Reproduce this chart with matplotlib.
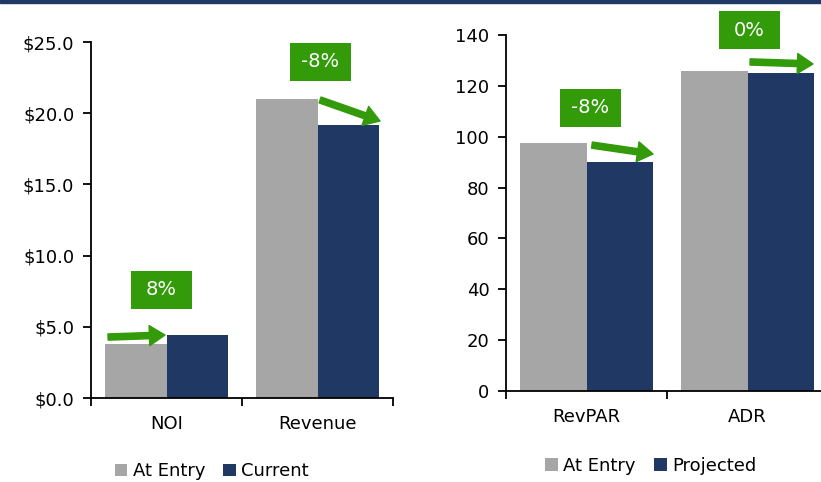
import matplotlib
matplotlib.use("Agg")
import matplotlib.pyplot as plt
from matplotlib.patches import Rectangle
from matplotlib.transforms import ScaledTranslation

# ---- data ----
left_categories = ["NOI", "Revenue"]
left_entry = [3.8, 21.0]
left_current = [4.4, 19.2]
left_changes = ["8%", "-8%"]
left_yticks = [0, 5, 10, 15, 20, 25]
left_yticklabels = ["$0.0", "$5.0", "$10.0", "$15.0", "$20.0", "$25.0"]

right_categories = ["RevPAR", "ADR"]
right_entry = [97.5, 126.0]
right_projected = [90.0, 125.0]
right_changes = ["-8%", "0%"]
right_yticks = [0, 20, 40, 60, 80, 100, 120, 140]

GREY = "#A6A6A6"
NAVY = "#1F3864"
GREEN = "#339A0A"
FONT = "DejaVu Sans"

plt.rcParams['font.family'] = [FONT]

fig = plt.figure(figsize=(8.21, 4.82), dpi=100)
fig.patches.append(Rectangle((0, 1 - 3/482), 1, 3/482, transform=fig.transFigure,
                             color=NAVY, zorder=10))

W = 0.41

def setup(ax, cats, ymax, yticks, yticklabels, fs):
    ax.set_xlim(-0.5, 1.5)
    ax.set_ylim(0, ymax)
    for s in ["top", "right"]:
        ax.spines[s].set_visible(False)
    for s in ["left", "bottom"]:
        ax.spines[s].set_linewidth(1.3)
    ax.set_xticks(range(len(cats)))
    ax.set_xticklabels(cats, fontsize=fs)
    ax.tick_params(axis="x", which="major", length=0, pad=12)
    ax.set_xticks([-0.5, 0.5, 1.5], minor=True)
    ax.tick_params(axis="x", which="minor", length=6, width=1.3, direction="out")
    ax.set_yticks(yticks)
    ax.set_yticklabels(yticklabels, fontsize=fs)
    ax.tick_params(axis="y", length=6, width=1.3, direction="out", pad=6)

def label_box(ax, x, y, text, w=61, h=38):
    trans = fig.dpi_scale_trans + ScaledTranslation(x, y, ax.transData)
    box = Rectangle((-w/200, -h/200), w/100, h/100, transform=trans,
                    facecolor=GREEN, edgecolor="none", zorder=5, clip_on=False)
    ax.add_patch(box)
    ax.text(x, y, text, ha="center", va="center", color="white", fontsize=14,
            clip_on=False, zorder=6)

def arrow(ax, start, end):
    ax.annotate("", xy=end, xytext=start,
                arrowprops=dict(arrowstyle="simple,head_length=0.7,head_width=0.9,tail_width=0.28",
                                color=GREEN, mutation_scale=16, shrinkA=0, shrinkB=0),
                annotation_clip=False, zorder=6)

# ---- left chart ----
ax1 = fig.add_axes([91/821, 1 - 398/482, 302/821, 356/482])
x = range(len(left_categories))
ax1.bar([i - W/2 for i in x], left_entry, width=W, color=GREY, label="At Entry")
ax1.bar([i + W/2 for i in x], left_current, width=W, color=NAVY, label="Current")
setup(ax1, left_categories, 25, left_yticks, left_yticklabels, 13)

label_box(ax1, -0.033, left_current[0] + 3.2, left_changes[0])
label_box(ax1, 1.017, left_entry[1] + 2.6, left_changes[1])
arrow(ax1, (-0.387, left_entry[0] + 0.48), (-0.01, left_current[0] + 0.02))
arrow(ax1, (1.017, left_entry[1] - 0.07), (1.414, left_current[1] + 0.25))

ax1.legend(loc="upper center", bbox_to_anchor=(0.4, -0.16), ncol=2, frameon=False,
           fontsize=13, handlelength=0.7, handleheight=0.7, handletextpad=0.3,
           columnspacing=1.0, borderaxespad=0)

# ---- right chart ----
ax2 = fig.add_axes([506/821, 1 - 391/482, 322/821, 356/482])
x = range(len(right_categories))
ax2.bar([i - W/2 for i in x], right_entry, width=W, color=GREY, label="At Entry")
ax2.bar([i + W/2 for i in x], right_projected, width=W, color=NAVY, label="Projected")
setup(ax2, right_categories, 140, right_yticks, [str(v) for v in right_yticks], 13)

label_box(ax2, 0.025, right_entry[0] + 13.8, right_changes[0])
label_box(ax2, 1.012, right_entry[1] + 15.8, right_changes[1])
arrow(ax2, (0.034, right_entry[0] - 0.8), (0.413, right_projected[0] + 3.2))
arrow(ax2, (1.016, right_entry[1] + 3.4), (1.407, right_projected[1] + 3.6))

ax2.legend(loc="upper center", bbox_to_anchor=(0.45, -0.165), ncol=2, frameon=False,
           fontsize=13, handlelength=0.7, handleheight=0.7, handletextpad=0.3,
           columnspacing=1.0, borderaxespad=0)

fig.savefig("out.png", dpi=100)
